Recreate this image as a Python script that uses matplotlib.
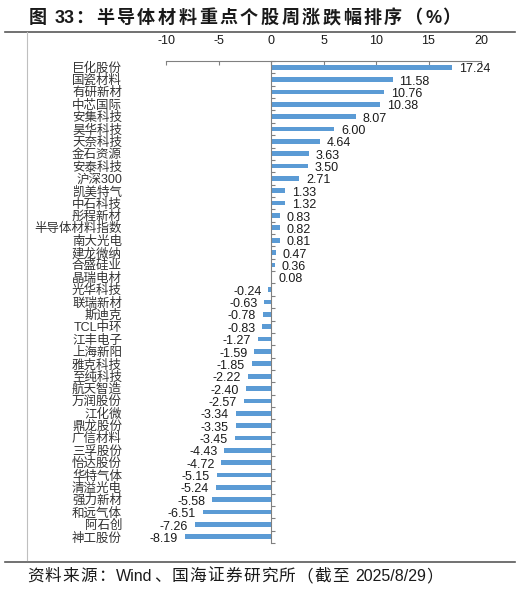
import re
import matplotlib
matplotlib.use("Agg")
import matplotlib.pyplot as plt
import matplotlib.transforms as mtransforms
from matplotlib.lines import Line2D
import numpy as np

# data
names = ["巨化股份", "国瓷材料", "有研新材", "中芯国际", "安集科技", "昊华科技", "天奈科技",
         "金石资源", "安泰科技", "沪深300", "凯美特气", "中石科技", "彤程新材", "半导体材料指数",
         "南大光电", "建龙微纳", "合盛硅业", "晶瑞电材", "光华科技", "联瑞新材", "斯迪克",
         "TCL中环", "江丰电子", "上海新阳", "雅克科技", "至纯科技", "航天智造", "万润股份",
         "江化微", "鼎龙股份", "广信材料", "三孚股份", "怡达股份", "华特气体", "清溢光电",
         "强力新材", "和远气体", "阿石创", "神工股份"]
pct = [17.24, 11.58, 10.76, 10.38, 8.07, 6.00, 4.64, 3.63, 3.50, 2.71, 1.33, 1.32, 0.83,
       0.82, 0.81, 0.47, 0.36, 0.08, -0.24, -0.63, -0.78, -0.83, -1.27, -1.59, -1.85, -2.22,
       -2.40, -2.57, -3.34, -3.35, -3.45, -4.43, -4.72, -5.15, -5.24, -5.58, -6.51, -7.26, -8.19]
xticks = [-10, -5, 0, 5, 10, 15, 20]

title = "图 33：半导体材料重点个股周涨跌幅排序（%）"
source = "资料来源：Wind、国海证券研究所（截至 2025/8/29）"

fam = ["Liberation Sans", "Noto Sans CJK SC", "DejaVu Sans"]
plt.rcParams["font.family"] = fam

W, H = 521, 589
fig = plt.figure(figsize=(W / 100, H / 100), dpi=100)
ax = fig.add_axes([166 / W, 1 - 543 / H, 315 / W, (543 - 61) / H])

y = np.arange(len(names))
ax.barh(y, pct, height=0.38, color="#5B9BD5", zorder=2)
ax.set_xlim(-10, 20)
ax.set_ylim(len(names) - 0.5, -0.5)

# x axis on top
ax.xaxis.tick_top()
ax.set_xticks(xticks)
ax.set_xticklabels([str(t) for t in xticks], fontsize=9, color="#1a1a1a")
ax.tick_params(axis="x", direction="in", length=3, color="#808080", pad=10)
for s in ["bottom", "right"]:
    ax.spines[s].set_visible(False)
ax.spines["top"].set_color("#808080")
ax.spines["left"].set_position(("data", 0))
ax.spines["left"].set_color("#808080")

# category boundaries as ticks on the zero line
ax.set_yticks(np.arange(len(names) + 1) - 0.5)
ax.set_yticklabels([])
ax.tick_params(axis="y", direction="in", length=3, color="#808080")

# category labels at the far left
tr = mtransforms.blended_transform_factory(fig.transFigure, ax.transData)
for i, n in enumerate(names):
    ax.text(122 / W, i + 0.12, n, transform=tr, ha="right", va="center",
            fontsize=9, color="#333333", clip_on=False)

# value labels
for i, v in enumerate(pct):
    if v >= 0:
        ax.annotate(f"{v:.2f}", (v, i), xytext=(5, -1.5), textcoords="offset points",
                    ha="left", va="center", fontsize=9, color="#1a1a1a")
    else:
        ax.annotate(f"{v:.2f}", (v, i), xytext=(-5, -1.5), textcoords="offset points",
                    ha="right", va="center", fontsize=9, color="#1a1a1a")

# frame lines
fig.add_artist(Line2D([5 / W, 515 / W], [1 - 31.5 / H, 1 - 31.5 / H], color="#595959", lw=1.2))
fig.add_artist(Line2D([5 / W, 515 / W], [1 - 562 / H, 1 - 562 / H], color="#595959", lw=1.2))
fig.add_artist(Line2D([27 / W, 27 / W], [1 - 32 / H, 1 - 560 / H], color="#BFBFBF", lw=0.8))


def spaced(x_px, base_px, s, cjk_size, lat_size, gap, weight="normal"):
    # lay out CJK chars on a fixed pitch, latin runs at their own width
    r = fig.canvas.get_renderer()
    x = x_px
    for tok in re.findall(r"[A-Za-z0-9/%.]+| |.", s):
        if tok == " ":
            x += 0.278 * lat_size * 100 / 72
            continue
        latin = tok.isascii()
        t = fig.text(x / W, 1 - base_px / H, tok, fontsize=lat_size if latin else cjk_size,
                     fontweight=weight, ha="left", va="baseline", color="#1a1a1a")
        if latin:
            x += t.get_window_extent(r).width + 1.0
        else:
            x += cjk_size * 100 / 72 + gap


spaced(29, 23, title, 13, 13, 2.5, weight="bold")
spaced(27, 581, source, 12, 11.5, 1.2)

fig.savefig("out.png", dpi=100)
